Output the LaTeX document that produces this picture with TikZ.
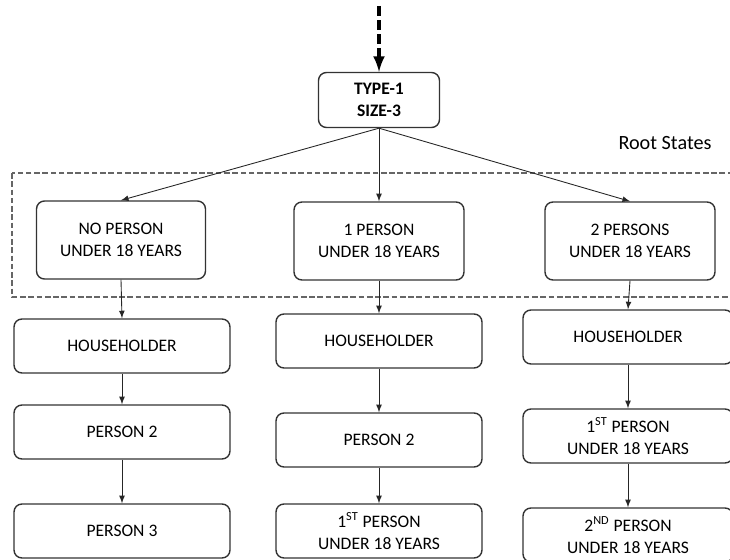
\documentclass[tikz,border=0pt]{standalone}
\usepackage{fontspec}
\setmainfont{Carlito}
\usepackage{tikz}
\tikzset{
        state/.style={draw=black!80,line width=.8pt,rounded corners=4.5pt,align=center,
            font=\fontsize{10}{12.5}\selectfont,inner sep=0pt},
        flow/.style={draw=black!85,line width=.5pt,-latex}
    }

\begin{document}
\begin{tikzpicture}[x=0.02cm,y=-0.02cm]

\useasboundingbox (0,0) rectangle (730,560);
\clip (0,0) rectangle (730,560);

\draw (379,100) node(TYPE)[state,minimum width=2.42cm,minimum height=1.1cm]{\textbf{TYPE-1}\\\textbf{SIZE-3}};
\draw (665,143) node(ROOT)[font=\fontsize{11.5}{13}\selectfont]{Root States};

\draw (121,240) node(NONE)[state,minimum width=3.38cm,minimum height=1.56cm]{NO PERSON\\UNDER 18 YEARS};
\draw (379,241) node(ONE)[state,minimum width=3.4cm,minimum height=1.56cm]{1 PERSON\\UNDER 18 YEARS};
\draw (630,241) node(TWO)[state,minimum width=3.4cm,minimum height=1.56cm]{2 PERSONS\\UNDER 18 YEARS};

\draw (122,346) node(HHA)[state,minimum width=4.32cm,minimum height=1.08cm]{HOUSEHOLDER};
\draw (122,432) node(PTWOA)[state,minimum width=4.32cm,minimum height=1.08cm]{PERSON 2};
\draw (122,531) node(PTHREEA)[state,minimum width=4.32cm,minimum height=1.08cm]{PERSON 3};

\draw (379,341) node(HHB)[state,minimum width=4.12cm,minimum height=1.08cm]{HOUSEHOLDER};
\draw (379,440) node(PTWOB)[state,minimum width=4.12cm,minimum height=1.08cm]{PERSON 2};
\draw (379,531) node(FIRSTB)[state,minimum width=4.12cm,minimum height=1.08cm]{1\textsuperscript{ST} PERSON\\UNDER 18 YEARS};

\draw (628,337) node(HHC)[state,minimum width=4.2cm,minimum height=1.08cm]{HOUSEHOLDER};
\draw (628,436) node(FIRSTC)[state,minimum width=4.2cm,minimum height=1.08cm]{1\textsuperscript{ST} PERSON\\UNDER 18 YEARS};
\draw (628,535) node(SECONDC)[state,minimum width=4.2cm,minimum height=1.08cm]{2\textsuperscript{ND} PERSON\\UNDER 18 YEARS};

% root states frame
\draw[black!60,line width=1.4pt,dash pattern=on 3.2pt off 1.5pt] (12,173) rectangle (740,297);

% incoming arrow
\coordinate (IN) at (379,6);
\draw[line width=2pt,dash pattern=on 5.5pt off 2.5pt,-latex] (IN) -- (TYPE.north);

\draw[flow] (TYPE.south) -- (NONE.north);
\draw[flow] (TYPE.south) -- (ONE.north);
\draw[flow] (TYPE.south) -- (TWO.north);

\draw[flow] (NONE.south) -- (HHA.north);
\draw[flow] (HHA.south) -- (PTWOA.north);
\draw[flow] (PTWOA.south) -- (PTHREEA.north);

\draw[flow] (ONE.south) -- (HHB.north);
\draw[flow] (HHB.south) -- (PTWOB.north);
\draw[flow] (PTWOB.south) -- (FIRSTB.north);

\draw[flow] (TWO.south) -- (HHC.north);
\draw[flow] (HHC.south) -- (FIRSTC.north);
\draw[flow] (FIRSTC.south) -- (SECONDC.north);

\end{tikzpicture}
\end{document}
